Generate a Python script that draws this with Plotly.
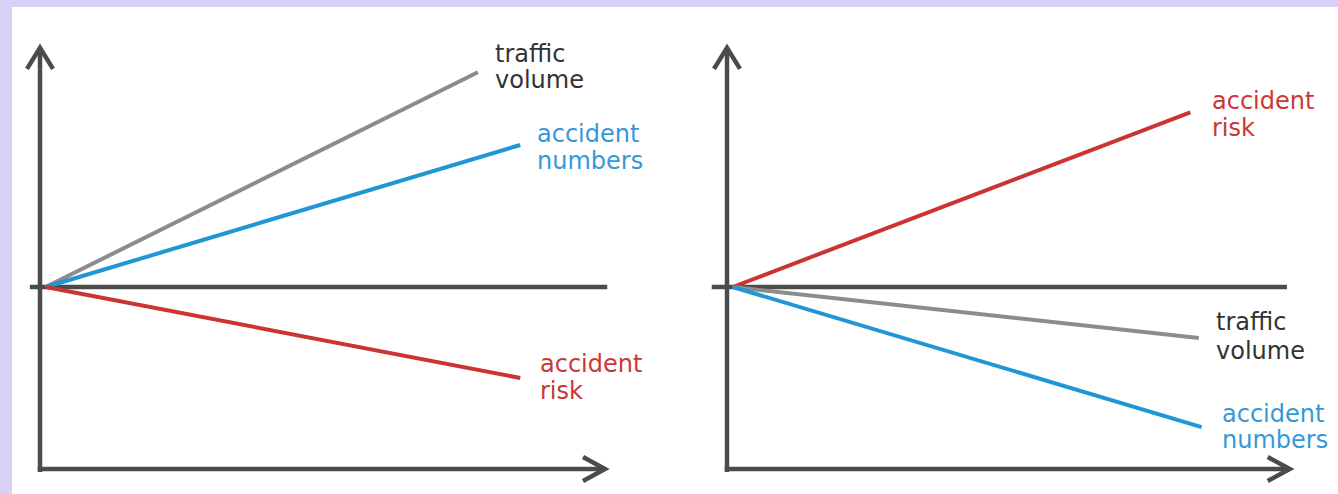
import plotly.graph_objects as go

# ---- data (logical units: x along horizontal axis 0..10, y relative to baseline 0) ----
left_names = ["traffic volume", "accident numbers", "accident risk"]
left_end_x = [7.75, 8.5, 8.5]
left_end_y = [5.9, 3.9, -2.5]

right_names = ["accident risk", "traffic volume", "accident numbers"]
right_end_x = [8.2, 8.35, 8.4]
right_end_y = [4.8, -1.4, -3.85]

start_x = 0.1
start_y = 0.0

# ---- styles ----
W, H = 1338, 494
PX_X = 56.5      # pixels per x unit
PX_Y = 36.4      # pixels per y unit
AXIS_COL = "#4b4b4b"
line_colors = {"traffic volume": "#8c8c8c", "accident numbers": "#2196d6", "accident risk": "#cc3333"}
text_colors = {"traffic volume": "#333333", "accident numbers": "#3598d8", "accident risk": "#cc3636"}
FONT = "DejaVu Sans"
FS = 24

# label offsets in pixels (dx, [dy line1, dy line2]) relative to line end; screen y downward
left_offsets = {"traffic volume": (15, -18, 8), "accident numbers": (15, -11, 16), "accident risk": (18, -14, 13)}
right_offsets = {"accident risk": (20, -11, 16), "traffic volume": (15, -16, 13), "accident numbers": (18, -13, 13)}

fig = go.Figure()

left_origin_px = 40
right_origin_px = 727
baseline_px = 287

xr_left = [-left_origin_px / PX_X, (W / 2 - left_origin_px) / PX_X]
xr_right = [-(right_origin_px - W / 2) / PX_X, (W - right_origin_px) / PX_X]
yr = [-(H - baseline_px) / PX_Y, baseline_px / PX_Y]

def add_series(names, ex, ey, xa, offsets):
    for n, x1, y1 in zip(names, ex, ey):
        fig.add_trace(go.Scatter(
            x=[start_x, x1], y=[start_y, y1], mode="lines",
            line=dict(color=line_colors[n], width=4),
            xaxis=xa, yaxis="y", hoverinfo="skip", showlegend=False))
        words = n.split(" ")
        dx, dy1, dy2 = offsets[n]
        for w, dy in zip(words, [dy1, dy2]):
            fig.add_annotation(
                x=x1, y=y1, xref=xa, yref="y", text=w, showarrow=False,
                xanchor="left", yanchor="middle", xshift=dx, yshift=-dy,
                font=dict(family=FONT, size=FS, color=text_colors[n]))

add_series(left_names, left_end_x, left_end_y, "x", left_offsets)
add_series(right_names, right_end_x, right_end_y, "x2", right_offsets)

shapes = []
shapes.append(dict(type="rect", xref="paper", yref="paper", x0=12 / W, x1=1, y0=0, y1=1 - 7 / H,
                   fillcolor="white", line=dict(width=0), layer="below"))

def axis_shapes(xref, x_mid0, x_mid1, x_end):
    y_bot = -5.0
    y_top = 6.57
    ln = dict(color=AXIS_COL, width=4.5)
    s = []
    s.append(dict(type="line", xref=xref, yref="y", x0=0, x1=0, y0=y_bot - 0.08, y1=y_top - 0.05, line=ln, layer="below"))
    s.append(dict(type="line", xref=xref, yref="y", x0=-0.04, x1=x_end - 0.05, y0=y_bot, y1=y_bot, line=ln, layer="below"))
    s.append(dict(type="line", xref=xref, yref="y", x0=x_mid0, x1=x_mid1, y0=0, y1=0, line=ln, layer="below"))
    ax, ay = 13 / PX_X, 21 / PX_Y
    s.append(dict(type="path", xref=xref, yref="y",
                  path=f"M {-ax} {y_top - ay} L 0 {y_top} L {ax} {y_top - ay}",
                  line=ln, layer="below"))
    bx, by = 22 / PX_X, 12 / PX_Y
    s.append(dict(type="path", xref=xref, yref="y",
                  path=f"M {x_end - bx} {y_bot + by} L {x_end} {y_bot} L {x_end - bx} {y_bot - by}",
                  line=ln, layer="below"))
    return s

shapes += axis_shapes("x", -0.18, 10.04, 10.0)
shapes += axis_shapes("x2", -0.27, 9.91, 9.96)

hidden = dict(showgrid=False, zeroline=False, showticklabels=False, showline=False, ticks="", fixedrange=True)

fig.update_layout(
    width=W, height=H,
    margin=dict(l=0, r=0, t=0, b=0),
    paper_bgcolor="#d7d0f7",
    plot_bgcolor="rgba(0,0,0,0)",
    shapes=shapes,
    xaxis=dict(domain=[0, 0.5], range=xr_left, anchor="y", **hidden),
    xaxis2=dict(domain=[0.5, 1], range=xr_right, anchor="y", **hidden),
    yaxis=dict(domain=[0, 1], range=yr, anchor="x", **hidden),
    showlegend=False,
)

fig.write_html("out.html", config={"displayModeBar": False},
               post_script="document.body.style.margin='0';document.body.style.overflow='hidden';")
